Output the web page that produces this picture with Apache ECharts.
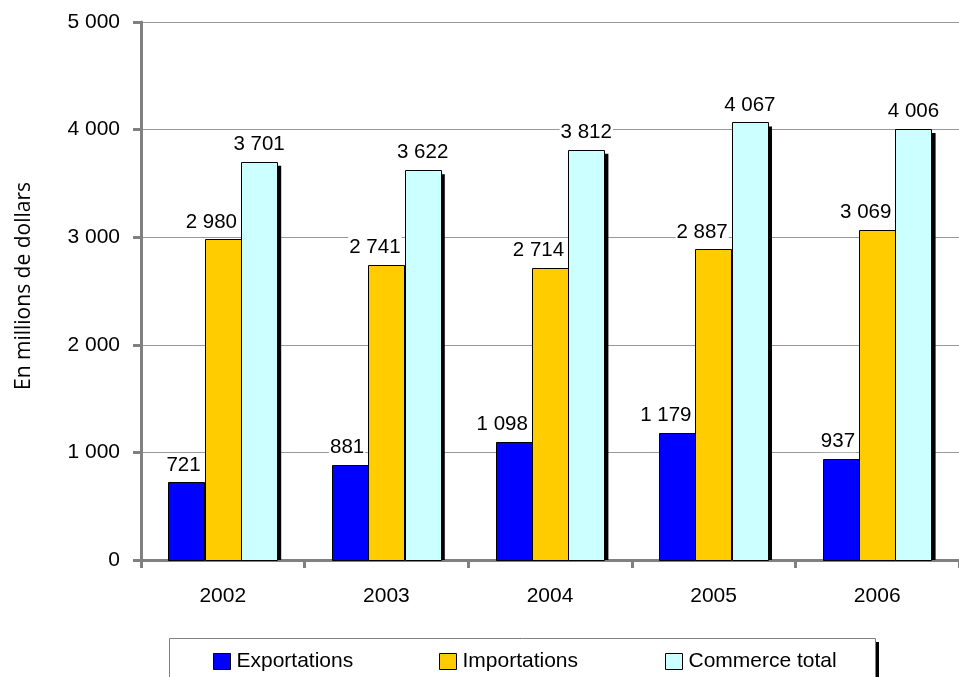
<!DOCTYPE html>
<html>
<head>
<meta charset="utf-8">
<script src="https://cdn.jsdelivr.net/npm/echarts@6/dist/echarts.min.js"></script>
<style>html,body{margin:0;padding:0;background:#fff;}#c{width:959px;height:677px;}</style>
</head>
<body>
<div id="c"></div>
<script>
const categories = ['2002', '2003', '2004', '2005', '2006'];
const exportations = [721, 881, 1098, 1179, 937];
const importations = [2980, 2741, 2714, 2887, 3069];
const commerceTotal = [3701, 3622, 3812, 4067, 4006];
const seriesNames = ['Exportations', 'Importations', 'Commerce total'];
const seriesColors = ['#0000FF', '#FFCC00', '#CCFFFF'];
const yTicks = [0, 1000, 2000, 3000, 4000, 5000];

const FONT = '"Liberation Sans", Arial, sans-serif';
function fmt(v) { return String(v).replace(/\B(?=(\d{3})+(?!\d))/g, ' '); }

const GAP = 0.335, NSER = 3, SH = 4;
function mkSeries(k, values) {
  const color = seriesColors[k];
  return {
    name: seriesNames[k], type: 'custom',
    data: values.map((v, i) => [i, v]),
    encode: { x: 0, y: 1 },
    itemStyle: { color: color, borderColor: '#000', borderWidth: 1 },
    z: 2,
    renderItem: function (params, api) {
      const i = api.value(0), v = api.value(1);
      const band = api.size([1, 0])[0];
      const bw = band * (1 - GAP) / NSER;
      const c = api.coord([i, 0]);
      const top = api.coord([i, v])[1];
      const x0 = c[0] - bw * NSER / 2 + k * bw;
      const base = c[1];
      const last = k === NSER - 1;
      return {
        type: 'group',
        children: [
          { type: 'rect', z2: 2 * k, shape: { x: x0 + SH, y: top + SH, width: bw, height: base - top - SH },
            style: { fill: '#000' } },
          { type: 'rect', z2: 2 * k + 1, shape: { x: Math.round(x0) + 0.5, y: Math.round(top) + 0.5, width: Math.round(bw), height: Math.round(base - top) },
            style: { fill: color, stroke: '#000', lineWidth: 1 } },
          { type: 'text', z2: 100,
            style: { text: fmt(v), x: last ? x0 + bw / 2 : x0 + bw - 3, y: top - 7,
              align: last ? 'center' : 'right', verticalAlign: 'bottom',
              fill: '#000', font: '20.5px "Liberation Sans", Arial, sans-serif',
              backgroundColor: '#fff', padding: [0, 1] } }
        ]
      };
    }
  };
}
function mkLegend(k, left) {
  return {
    left: left, top: 651, z: 10, padding: 0,
    itemWidth: 17, itemHeight: 16, itemGap: 0, icon: 'rect',
    itemStyle: { color: seriesColors[k], borderColor: '#000', borderWidth: 1 },
    textStyle: { fontFamily: FONT, fontSize: 21, color: '#000', padding: [0, 0, 0, 1] },
    data: [seriesNames[k]],
    selectedMode: false
  };
}

const chart = echarts.init(document.getElementById('c'));
chart.setOption({
  animation: false,
  graphic: [
    { type: 'rect', z: 0, shape: { x: 173, y: 642, width: 706, height: 60 }, style: { fill: '#000' } },
    { type: 'rect', z: 1, shape: { x: 169.5, y: 638.5, width: 706, height: 60 },
      style: { fill: '#fff', stroke: '#808080', lineWidth: 1 } }
  ],
  grid: { left: 141, right: -10, top: 22, bottom: 117, containLabel: false },
  legend: [mkLegend(0, 213), mkLegend(1, 439), mkLegend(2, 665)],
  xAxis: {
    type: 'category', data: categories,
    axisLine: { lineStyle: { color: '#808080', width: 3 } },
    axisTick: { show: true, length: 8, lineStyle: { color: '#808080', width: 3 } },
    axisLabel: { margin: 26, color: '#000', fontFamily: FONT, fontSize: 21 }
  },
  yAxis: {
    type: 'value', min: yTicks[0], max: yTicks[yTicks.length - 1], interval: yTicks[1] - yTicks[0],
    name: 'En millions de dollars', nameLocation: 'middle', nameRotate: 90, nameGap: 106,
    nameTextStyle: { fontFamily: '"Open Sans", sans-serif', fontSize: 21, color: '#000', padding: [0, 0, 0, 10] },
    axisLine: { show: true, lineStyle: { color: '#808080', width: 3 } },
    axisTick: { show: true, length: 8, lineStyle: { color: '#808080', width: 3 } },
    axisLabel: { margin: 21, color: '#000', fontFamily: FONT, fontSize: 21, formatter: v => fmt(v) },
    splitLine: { show: true, lineStyle: { color: '#999', width: 1 } }
  },
  series: [
    mkSeries(0, exportations),
    mkSeries(1, importations),
    mkSeries(2, commerceTotal)
  ]
});
</script>
</body>
</html>
